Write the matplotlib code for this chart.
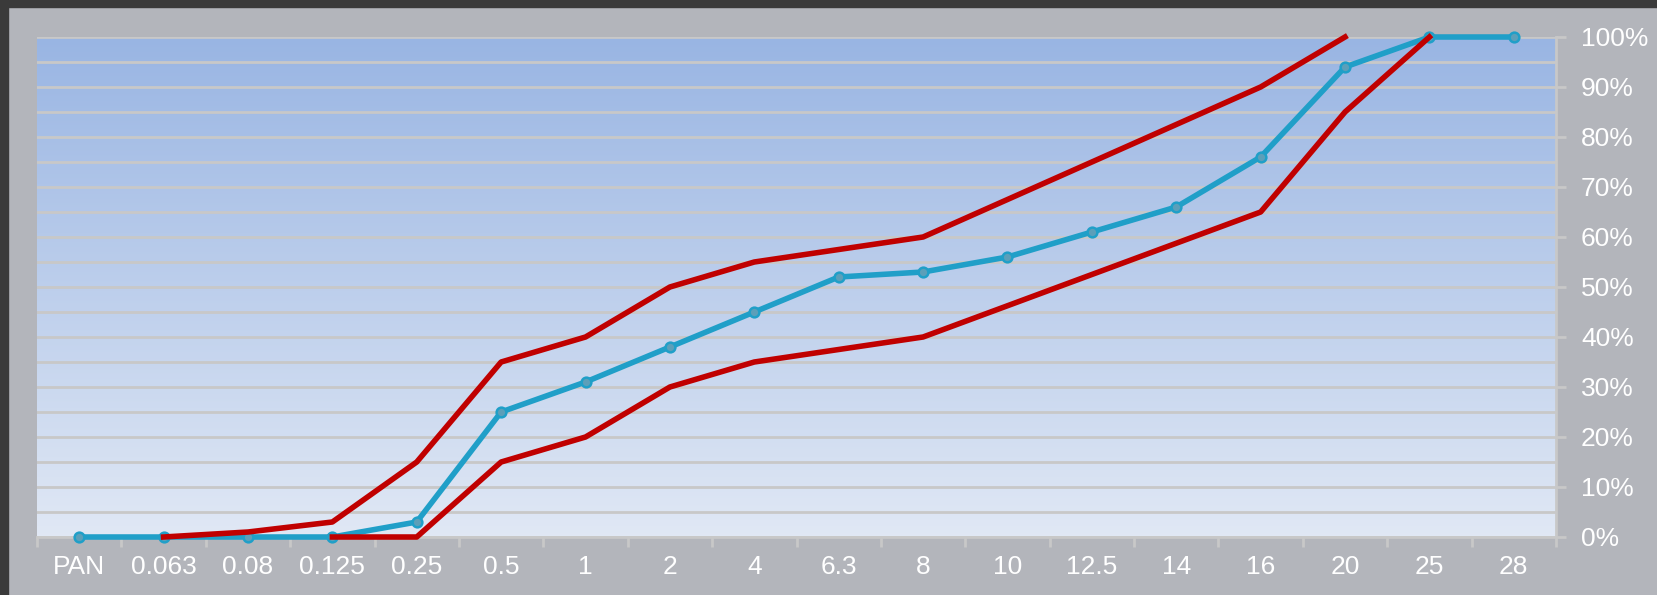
import matplotlib.pyplot as plt
import numpy as np
from matplotlib.patches import Rectangle
from matplotlib.ticker import FixedLocator, FuncFormatter

plt.rcParams['font.family'] = ['Liberation Sans', 'DejaVu Sans']

# categorias (peneiras)
sieves = ['PAN', '0.063', '0.08', '0.125', '0.25', '0.5', '1', '2', '4',
          '6.3', '8', '10', '12.5', '14', '16', '20', '25', '28']

# curva granulometrica (passante %)
passing = [0, 0, 0, 0, 3, 25, 31, 38, 45, 52, 53, 56, 61, 66, 76, 94, 100, 100]

# limites superior e inferior
upper_sieves = ['0.063', '0.08', '0.125', '0.25', '0.5', '1', '2', '4', '8', '16', '20']
upper_vals = [0, 1, 3, 15, 35, 40, 50, 55, 60, 90, 100]
lower_sieves = ['0.125', '0.25', '0.5', '1', '2', '4', '8', '16', '20', '25']
lower_vals = [0, 0, 15, 20, 30, 35, 40, 65, 85, 100]

bg = '#b3b5bb'
grid_c = '#c8c8c8'
blue = '#209fc8'
red = '#c00000'

fig = plt.figure(figsize=(16.57, 5.95), dpi=100, facecolor=bg)
# bordas escuras
fig.patches.append(Rectangle((0, 1 - 7 / 595), 1, 7 / 595, transform=fig.transFigure,
                             color='#3a3a3a', zorder=0))
fig.patches.append(Rectangle((0, 0), 8 / 1657, 1, transform=fig.transFigure,
                             color='#3a3a3a', zorder=0))

ax = fig.add_axes([37 / 1657, 58 / 595, 1519 / 1657, 500 / 595])
ax.set_facecolor('none')

# gradiente de fundo
top = np.array([0.60, 0.71, 0.89])
bot = np.array([0.88, 0.91, 0.96])
t = np.linspace(0, 1, 256)[:, None]
grad = (top * (1 - t) + bot * t)[:, None, :]
ax.imshow(grad, extent=[0, 1, 0, 1], transform=ax.transAxes, aspect='auto', zorder=0)

idx = {s: i for i, s in enumerate(sieves)}
x = np.arange(len(sieves))

ax.plot(x, passing, color=blue, lw=4, marker='o', ms=7, mfc='#5c9fb9', mec=blue,
        mew=1.8, zorder=3, solid_joinstyle='round', clip_on=False)
ax.plot([idx[s] for s in upper_sieves], upper_vals, color=red, lw=4, zorder=4,
        solid_joinstyle='round', clip_on=False)
ax.plot([idx[s] for s in lower_sieves], lower_vals, color=red, lw=4, zorder=4,
        solid_joinstyle='round', clip_on=False)

ax.set_xlim(-0.5, len(sieves) - 0.5)
ax.set_ylim(0, 100)

ax.xaxis.set_major_locator(FixedLocator(x))
ax.set_xticklabels(sieves)
ax.xaxis.set_minor_locator(FixedLocator(np.arange(-0.5, len(sieves), 1)))
ax.tick_params(axis='x', which='major', length=0, pad=13, labelsize=19, labelcolor='white')
ax.tick_params(axis='x', which='minor', length=7, width=2, color=grid_c)

ax.yaxis.tick_right()
ax.yaxis.set_major_locator(FixedLocator(np.arange(0, 101, 10)))
ax.yaxis.set_minor_locator(FixedLocator(np.arange(5, 100, 10)))
ax.yaxis.set_major_formatter(FuncFormatter(lambda v, p: f'{int(v)}%'))
ax.tick_params(axis='y', which='major', length=7, width=2, color=grid_c, pad=11,
               labelsize=19, labelcolor='white')
ax.tick_params(axis='y', which='minor', length=0)
ax.yaxis.grid(True, which='both', color=grid_c, lw=2, zorder=1)
ax.set_axisbelow(False)
for gl in ax.get_ygridlines() + ax.yaxis.get_minorticklines():
    gl.set_zorder(1)

for s in ['left', 'top']:
    ax.spines[s].set_visible(False)
for s in ['right', 'bottom']:
    ax.spines[s].set_color(grid_c)
    ax.spines[s].set_linewidth(2)
    ax.spines[s].set_zorder(2)

fig.savefig('out.png', dpi=100, facecolor=bg)
